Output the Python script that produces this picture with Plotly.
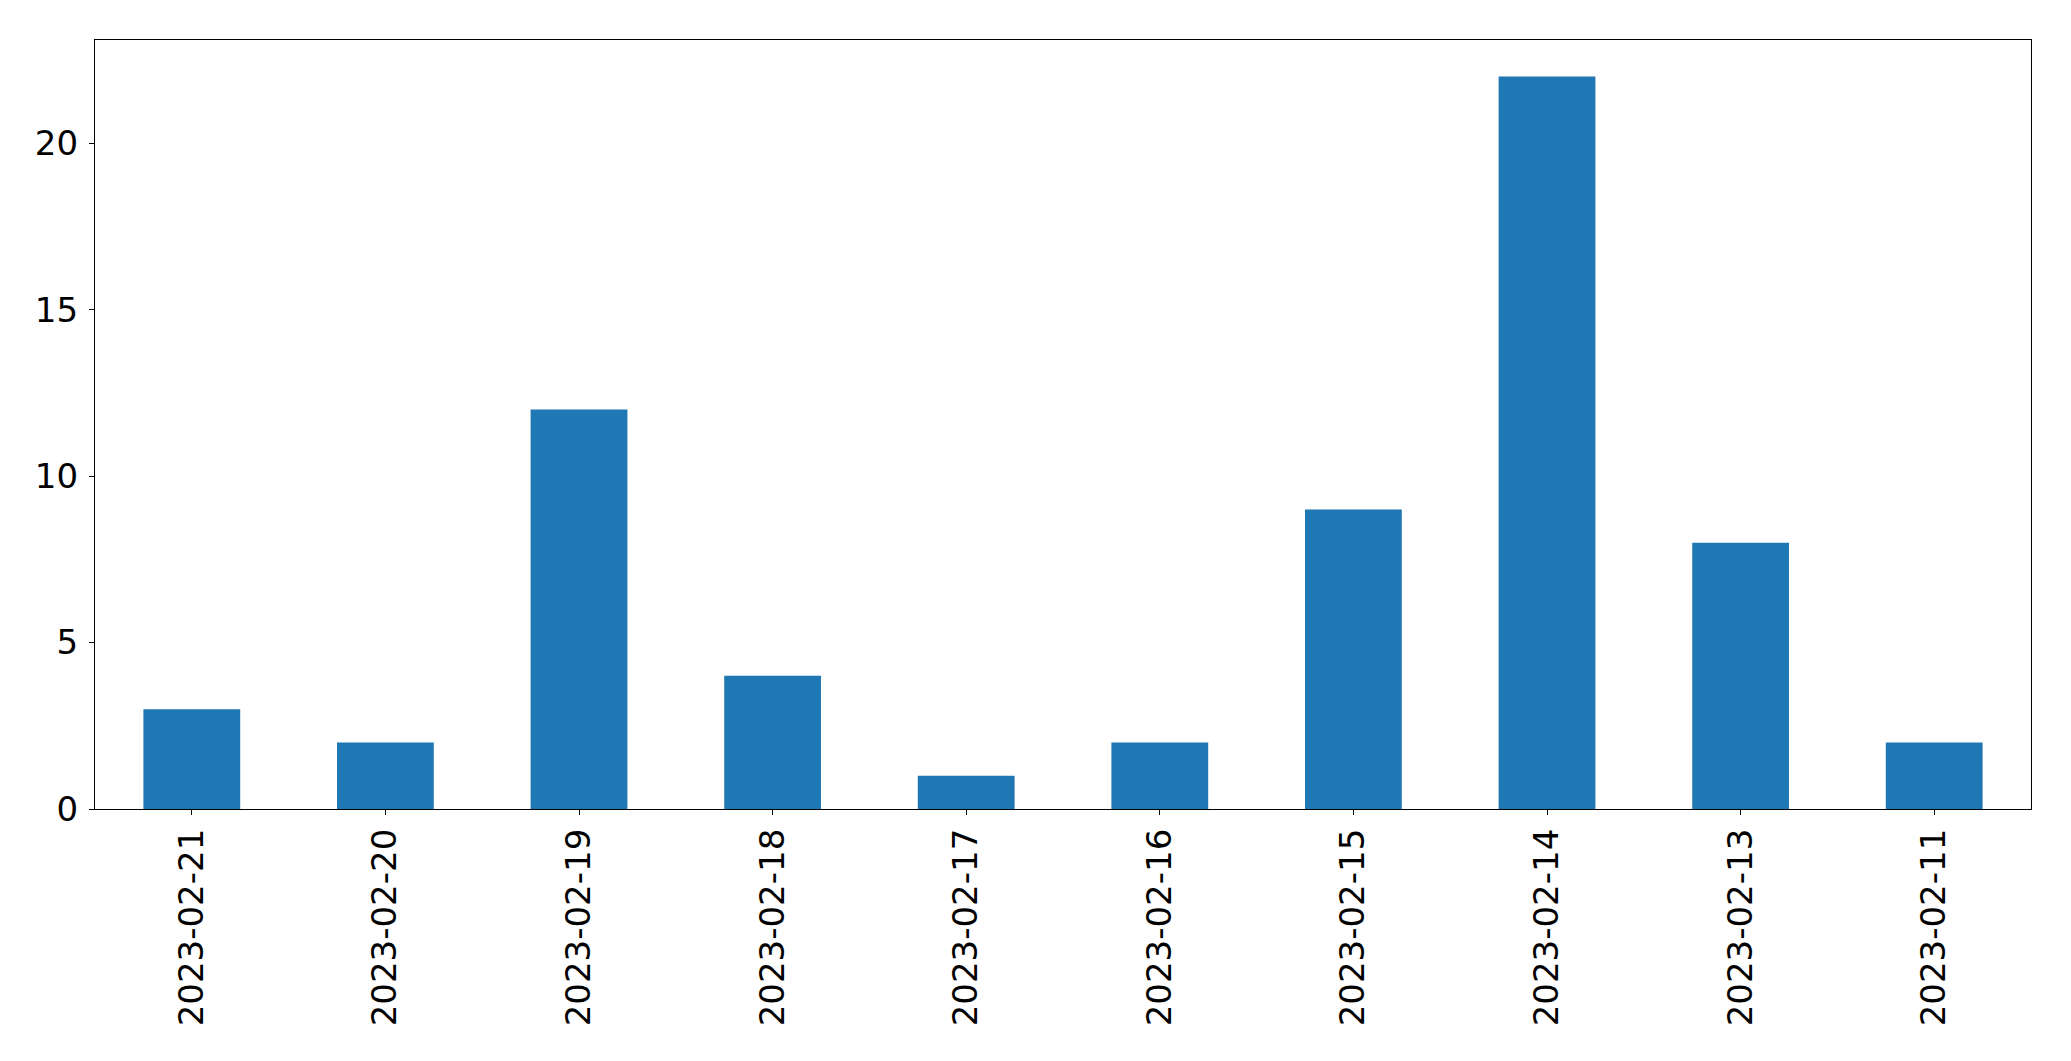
import plotly.graph_objects as go

dates = ["2023-02-21", "2023-02-20", "2023-02-19", "2023-02-18", "2023-02-17",
         "2023-02-16", "2023-02-15", "2023-02-14", "2023-02-13", "2023-02-11"]
counts = [3, 2, 12, 4, 1, 2, 9, 22, 8, 2]
y_ticks = [0, 5, 10, 15, 20]

fig = go.Figure(go.Bar(x=dates, y=counts, width=0.5, marker=dict(color="#1f77b4", line=dict(width=0))))

fig.update_layout(
    width=2071, height=1061,
    margin=dict(l=94.5, r=39.5, t=39.5, b=252, autoexpand=False),
    paper_bgcolor="white", plot_bgcolor="white",
    showlegend=False,
    font=dict(family="DejaVu Sans", size=34, color="black"),
)
fig.update_xaxes(
    type="category", range=[-0.5, 9.5], tickangle=-90,
    showline=True, linecolor="black", linewidth=1.3, mirror=True,
    ticks="outside", ticklen=5, tickwidth=1.3, tickcolor="black",
    showgrid=False, zeroline=False, ticklabelstandoff=0,
)
fig.update_yaxes(
    range=[0, 23.1], tickvals=y_ticks,
    showline=True, linecolor="black", linewidth=1.3, mirror=True,
    ticks="outside", ticklen=5, tickwidth=1.3, tickcolor="black",
    showgrid=False, zeroline=False, ticklabelstandoff=4,
)
fig.write_html("out.html", config={"displayModeBar": False},
               post_script="document.body.style.margin='0';document.body.style.overflow='hidden';")
